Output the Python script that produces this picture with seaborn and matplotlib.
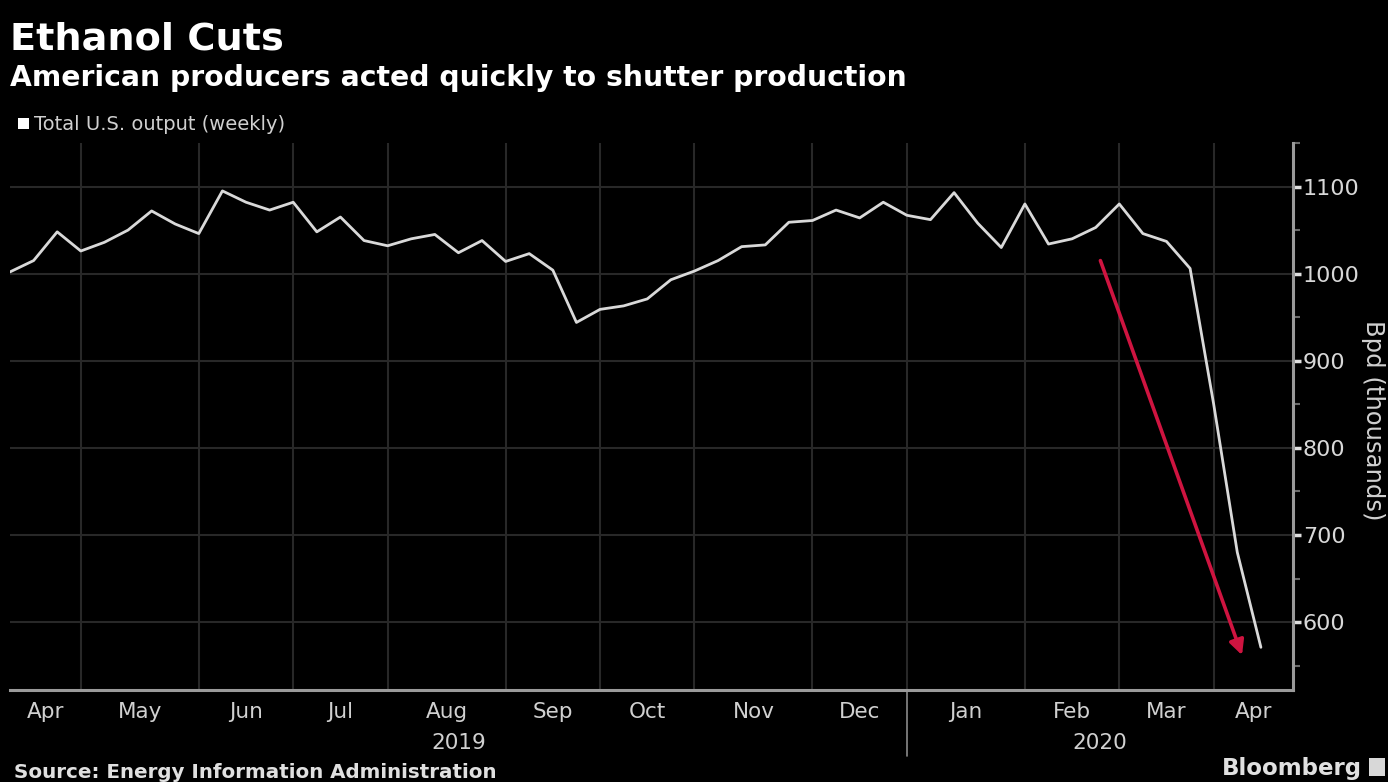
import numpy as np
import pandas as pd
import matplotlib
matplotlib.use("Agg")
import matplotlib.pyplot as plt
import matplotlib.transforms as mtransforms
from matplotlib.patches import Rectangle
import seaborn as sns

# Weekly U.S. fuel ethanol output, thousand barrels per day
week_ending = pd.date_range("2019-04-12", periods=54, freq="W-FRI")
output_kbd = [
    1002, 1015, 1048, 1026, 1036, 1050, 1072, 1057, 1046, 1095,
    1082, 1073, 1082, 1048, 1065, 1038, 1032, 1040, 1045, 1024,
    1038, 1014, 1023, 1004, 944, 959, 963, 971, 993, 1003,
    1015, 1031, 1033, 1059, 1061, 1073, 1064, 1082, 1067, 1062,
    1093, 1058, 1030, 1080, 1034, 1040, 1053, 1080, 1046, 1037,
    1006, 850, 680, 571,
]
month_labels = ["Apr", "May", "Jun", "Jul", "Aug", "Sep", "Oct",
                "Nov", "Dec", "Jan", "Feb", "Mar", "Apr"]
year_labels = ["2019", "2020"]
y_ticks = [600, 700, 800, 900, 1000, 1100]

# Red callout arrow (data coordinates: week index, kbd)
arrow_start = (46.2, 1015)
arrow_end = (52.2, 562)

W, H = 1388, 782
sns.set_theme(style="dark")
plt.rcParams["font.family"] = ["DejaVu Sans"]

fig = plt.figure(figsize=(W / 100, H / 100), dpi=100, facecolor="black")
ax = fig.add_axes([10 / W, 1 - 690 / H, (1293 - 10) / W, (690 - 143) / H])
ax.set_facecolor("black")

df = pd.DataFrame({"week": np.arange(len(output_kbd)), "kbd": output_kbd})
sns.lineplot(data=df, x="week", y="kbd", color="#d9d9d9", linewidth=2.0, ax=ax)

x_max = 54.36
ax.set_xlim(0, x_max)
ax.set_ylim(522, 1148)

# Month boundaries fall on the first weekly reading of each month
months = week_ending.month
starts = [i for i in range(1, len(week_ending)) if months[i] != months[i - 1]]
edges = [0] + starts + [x_max]
centers = [(a + b) / 2 for a, b in zip(edges[:-1], edges[1:])]

ax.set_xticks(starts)
ax.set_xticklabels([])
ax.set_xticks(centers, minor=True)
ax.set_xticklabels(month_labels, minor=True)
ax.tick_params(axis="x", which="major", length=7, width=1.2, color="#8a8a8a",
               direction="out")
ax.tick_params(axis="x", which="minor", length=0, pad=9, labelsize=15.5,
               labelcolor="#d0d0d0")

ax.yaxis.tick_right()
ax.set_yticks(y_ticks)
ax.set_yticklabels([str(v) for v in y_ticks])
ax.set_yticks([v + 50 for v in [500] + y_ticks], minor=True)
ax.tick_params(axis="y", which="major", length=6, width=2.5, color="#e0e0e0",
               pad=1, labelsize=16, labelcolor="#d8d8d8", direction="out")
ax.tick_params(axis="y", which="minor", length=5, width=1.5, color="#6a6a6a",
               direction="out")
ax.set_ylabel("")
ax.set_xlabel("")

ax.grid(True, which="major", color="#282828", linewidth=1.5)
ax.grid(False, which="minor")
for side in ("left", "top"):
    ax.spines[side].set_visible(False)
for side in ("bottom", "right"):
    ax.spines[side].set_visible(True)
    ax.spines[side].set_color("#9a9a9a")
    ax.spines[side].set_linewidth(2.2)

# Year captions and the divider between them
blend = mtransforms.blended_transform_factory(ax.transData, ax.transAxes)
year_split = next(s for s in starts if months[s] == 1)
year_centers = [year_split / 2, (year_split + x_max) / 2]
for xc, lab in zip(year_centers, year_labels):
    ax.text(xc, -0.108, lab, transform=blend, ha="center", va="baseline",
            fontsize=15.5, color="#d0d0d0")
ax.plot([year_split, year_split], [0, -0.12], transform=blend, color="#8a8a8a",
        linewidth=1.2, clip_on=False)

ax.annotate("", xy=arrow_end, xytext=arrow_start,
            arrowprops=dict(arrowstyle="-|>", color="#cf1440", lw=2.6,
                            mutation_scale=22, shrinkA=0, shrinkB=0))


def fpos(x, y):
    return x / W, 1 - y / H


fig.text(*fpos(1373, 420), "Bpd (thousands)", rotation=270, fontsize=17.5,
         color="#d0d0d0", ha="center", va="center")
fig.text(*fpos(10, 50), "Ethanol Cuts", fontsize=27.5, fontweight="bold",
         color="white", va="baseline", ha="left")
fig.text(*fpos(10, 86), "American producers acted quickly to shutter production",
         fontsize=20.3, fontweight="bold", color="white", va="baseline", ha="left")
fig.patches.append(Rectangle(fpos(18, 129), 11 / W, 11 / H, transform=fig.transFigure,
                             facecolor="white", edgecolor="none"))
fig.text(*fpos(34, 130), "Total U.S. output (weekly)", fontsize=14,
         color="#d0d0d0", va="baseline", ha="left")
fig.text(*fpos(14, 778), "Source: Energy Information Administration", fontsize=14.3,
         fontweight="bold", color="#e0e0e0", va="baseline", ha="left")
fig.text(*fpos(1362, 775), "Bloomberg", fontsize=16.5, fontweight="bold",
         color="#e0e0e0", va="baseline", ha="right")
fig.patches.append(Rectangle(fpos(1369, 776), 16 / W, 18 / H, transform=fig.transFigure,
                             facecolor="#d8d8d8", edgecolor="none"))

fig.savefig("out.png", dpi=100, facecolor="black")
